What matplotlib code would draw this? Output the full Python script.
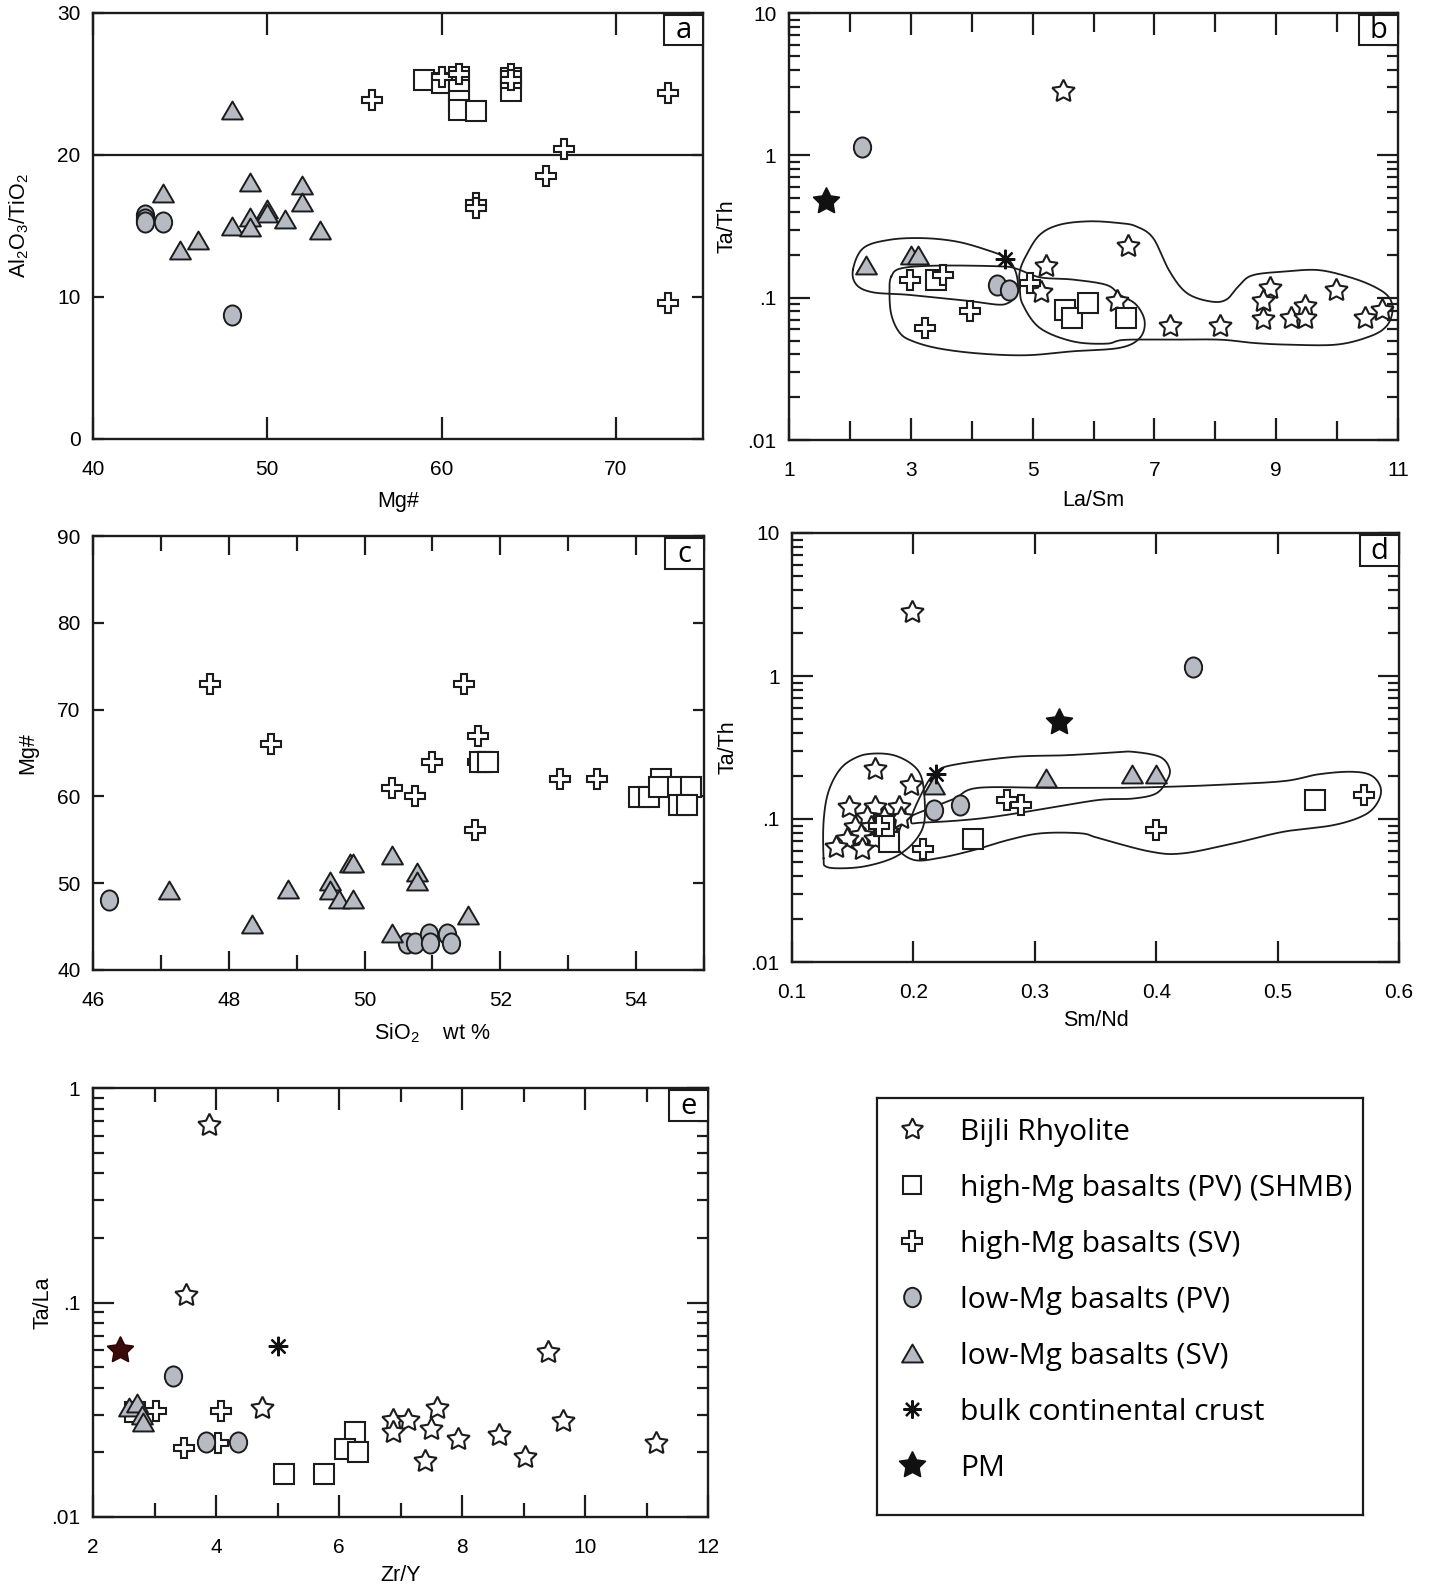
import numpy as np
import matplotlib
matplotlib.use('Agg')
import matplotlib.pyplot as plt
from matplotlib.lines import Line2D
from matplotlib.patches import Rectangle
from matplotlib.path import Path
from matplotlib.ticker import FixedLocator, FixedFormatter, NullFormatter

plt.rcParams['font.family'] = ['Liberation Sans', 'DejaVu Sans']
plt.rcParams['mathtext.default'] = 'regular'

# ---------------- data ----------------
# panel a : Mg# vs Al2O3/TiO2
a_sq_x = [59, 60, 61, 61, 61, 61, 62, 64, 64]
a_sq_y = [25.3, 25.1, 25.5, 24.6, 23.8, 23.2, 23.1, 24.5, 25.4]
a_pl_x = [56, 60, 61, 64, 64, 73, 67, 66, 62, 62, 73]
a_pl_y = [23.9, 25.5, 25.7, 25.7, 25.3, 24.4, 20.4, 18.5, 16.6, 16.3, 9.6]
a_ci_x = [43, 43, 43, 44, 48]
a_ci_y = [15.8, 15.5, 15.3, 15.3, 8.7]
a_tr_x = [48, 44, 49, 52, 52, 50, 50, 49, 48, 49, 51, 46, 45, 53]
a_tr_y = [23.2, 17.3, 18.1, 17.9, 16.7, 16.2, 15.9, 15.6, 15.0, 14.9, 15.5, 14.0, 13.3, 14.7]
a_limit = 20

# panel b : La/Sm vs Ta/Th
b_st_x = [5.50, 6.57, 5.22, 5.13, 6.38, 7.25, 8.07, 8.89, 8.78, 8.79, 9.25, 9.47, 9.47, 9.99, 10.45, 10.73]
b_st_y = [2.83, 0.229, 0.166, 0.110, 0.094, 0.063, 0.063, 0.117, 0.094, 0.071, 0.072, 0.087, 0.072, 0.114, 0.072, 0.082]
b_sq_x = [3.42, 5.53, 5.64, 5.91, 6.54]
b_sq_y = [0.134, 0.082, 0.072, 0.092, 0.072]
b_pl_x = [2.98, 3.53, 3.98, 3.23, 4.95]
b_pl_y = [0.134, 0.145, 0.081, 0.061, 0.127]
b_ci_x = [2.20, 4.41, 4.62]
b_ci_y = [1.14, 0.123, 0.114]
b_tr_x = [2.27, 3.01, 3.12]
b_tr_y = [0.171, 0.200, 0.200]
b_bcc_x, b_bcc_y = [4.55], [0.188]
b_pm_x, b_pm_y = [1.60], [0.48]

b_hull1_x = [2.05, 2.22, 2.65, 3.20, 3.75, 4.24, 4.57, 4.71, 4.76, 4.72, 4.60, 4.43, 4.02, 3.47, 2.93, 2.38, 2.11]
b_hull1_y = [0.157, 0.223, 0.255, 0.262, 0.248, 0.217, 0.190, 0.157, 0.123, 0.102, 0.0918, 0.0893, 0.0942, 0.0995, 0.105, 0.109, 0.123]
b_hull2_x = [2.68, 2.85, 3.47, 4.46, 4.73, 5.12, 5.66, 6.21, 6.43, 6.70, 6.84, 6.76, 6.43, 5.66, 4.90, 4.13, 3.47, 3.04, 2.82, 2.68, 2.65]
b_hull2_y = [0.141, 0.161, 0.168, 0.166, 0.160, 0.139, 0.134, 0.123, 0.105, 0.0893, 0.0682, 0.0521, 0.0444, 0.0420, 0.0394, 0.0405, 0.0439, 0.0493, 0.0565, 0.076, 0.111]
b_hull3_x = [4.79, 4.84, 5.12, 5.66, 6.21, 6.50, 7.25, 8.07, 8.62, 9.17, 9.99, 10.54, 10.81, 10.91, 10.86, 10.65,
             10.26, 9.71, 9.17, 8.62, 8.40, 8.18, 7.91, 7.53, 7.25, 6.98, 6.70, 6.43, 5.94, 5.45, 5.12, 4.90, 4.79]
b_hull3_y = [0.117, 0.0893, 0.0612, 0.0493, 0.0475, 0.0505, 0.0507, 0.0507, 0.0481, 0.0468, 0.0468, 0.0535, 0.0630, 0.0802, 0.0995, 0.117,
             0.137, 0.156, 0.153, 0.144, 0.123, 0.0968, 0.0942, 0.108, 0.153, 0.262, 0.317, 0.334, 0.344, 0.326, 0.277, 0.200, 0.153]

# panel c : SiO2 vs Mg#
c_pl_x = [47.72, 48.62, 51.47, 51.67, 50.99, 51.67, 51.73, 51.82, 50.41, 50.74, 52.88, 53.43, 51.63]
c_pl_y = [73.0, 66.0, 73.0, 67.0, 64.0, 64.0, 64.0, 64.0, 61.0, 60.0, 62.0, 62.0, 56.1]
c_sq_x = [51.70, 51.82, 54.04, 54.19, 54.37, 54.33, 54.62, 54.81, 54.63, 54.75]
c_sq_y = [64.0, 64.0, 59.9, 59.9, 62.0, 61.1, 61.1, 61.1, 59.0, 59.0]
c_ci_x = [46.24, 50.62, 50.75, 50.95, 50.97, 51.22, 51.28]
c_ci_y = [48.1, 43.1, 43.1, 44.2, 43.1, 44.2, 43.1]
c_tr_x = [47.12, 48.34, 48.87, 49.49, 49.49, 49.63, 49.83, 49.78, 49.83, 50.40, 50.77, 50.77, 50.40, 51.53]
c_tr_y = [49.2, 45.3, 49.3, 50.2, 49.2, 48.2, 48.2, 52.3, 52.3, 53.3, 51.3, 50.3, 44.3, 46.3]

# panel d : Sm/Nd vs Ta/Th
d_st_x = [0.199, 0.168, 0.198, 0.147, 0.168, 0.188, 0.190, 0.162, 0.176, 0.152, 0.165, 0.174, 0.157, 0.145, 0.168, 0.136, 0.158, 0.178]
d_st_y = [2.82, 0.225, 0.173, 0.122, 0.122, 0.122, 0.101, 0.104, 0.101, 0.088, 0.088, 0.088, 0.077, 0.073, 0.073, 0.064, 0.062, 0.081]
d_sq_x = [0.180, 0.176, 0.249, 0.531]
d_sq_y = [0.069, 0.090, 0.073, 0.135]
d_pl_x = [0.208, 0.277, 0.289, 0.400, 0.571, 0.172]
d_pl_y = [0.062, 0.136, 0.125, 0.084, 0.147, 0.090]
d_ci_x = [0.430, 0.217, 0.238]
d_ci_y = [1.16, 0.115, 0.125]
d_tr_x = [0.217, 0.309, 0.380, 0.400]
d_tr_y = [0.173, 0.195, 0.205, 0.205]
d_bcc_x, d_bcc_y = [0.219], [0.206]
d_pm_x, d_pm_y = [0.32], [0.475]

d_hull1_x = [0.126, 0.126, 0.130, 0.140, 0.154, 0.168, 0.184, 0.198, 0.206, 0.209, 0.209, 0.203, 0.192, 0.179, 0.159, 0.140, 0.128]
d_hull1_y = [0.0531, 0.0957, 0.155, 0.225, 0.272, 0.287, 0.279, 0.244, 0.202, 0.147, 0.0957, 0.0733, 0.0592, 0.0516, 0.0465, 0.0452, 0.0465]
d_hull2_x = [0.198, 0.209, 0.219, 0.234, 0.283, 0.325, 0.366, 0.381, 0.403, 0.411, 0.409, 0.400, 0.381, 0.353, 0.311, 0.256, 0.209]
d_hull2_y = [0.0982, 0.164, 0.214, 0.240, 0.272, 0.279, 0.292, 0.295, 0.272, 0.225, 0.187, 0.151, 0.139, 0.136, 0.119, 0.101, 0.0946]
d_hull3_x = [0.195, 0.214, 0.234, 0.253, 0.311, 0.366, 0.409, 0.450, 0.505, 0.533, 0.560, 0.577, 0.585, 0.582, 0.571,
             0.546, 0.505, 0.464, 0.422, 0.395, 0.353, 0.338, 0.305, 0.278, 0.250, 0.223, 0.201, 0.187, 0.188]
d_hull3_y = [0.101, 0.119, 0.139, 0.165, 0.165, 0.165, 0.168, 0.173, 0.184, 0.205, 0.214, 0.202, 0.164, 0.129, 0.106,
             0.0906, 0.0815, 0.0676, 0.0575, 0.0592, 0.0733, 0.0794, 0.0794, 0.0713, 0.0607, 0.0537, 0.0516, 0.0624, 0.0815]

# panel e : Zr/Y vs Ta/La
e_st_x = [3.89, 3.52, 9.40, 4.75, 6.88, 7.12, 7.60, 6.88, 7.49, 7.40, 7.94, 8.60, 9.03, 9.64, 11.15]
e_st_y = [0.67, 0.108, 0.0585, 0.0323, 0.0283, 0.0283, 0.0323, 0.0249, 0.0258, 0.0182, 0.0232, 0.0241, 0.0191, 0.028, 0.0222]
e_sq_x = [5.10, 5.75, 6.26, 6.10, 6.31, 2.69]
e_sq_y = [0.0159, 0.0159, 0.0249, 0.0208, 0.0201, 0.031]
e_pl_x = [3.02, 4.08, 3.48, 4.03]
e_pl_y = [0.0311, 0.0311, 0.021, 0.0222]
e_ci_x = [3.30, 3.84, 4.36]
e_ci_y = [0.0454, 0.0224, 0.0224]
e_tr_x = [2.58, 2.72, 2.79, 2.82]
e_tr_y = [0.0327, 0.0339, 0.0298, 0.0278]
e_bcc_x, e_bcc_y = [5.00], [0.0629]
e_pm_x, e_pm_y = [2.44], [0.060]

legend_labels = ['Bijli Rhyolite', 'high-Mg basalts (PV) (SHMB)', 'high-Mg basalts (SV)',
                 'low-Mg basalts (PV)', 'low-Mg basalts (SV)', 'bulk continental crust', 'PM']

# ---------------- styles ----------------
GRAY = '#b5bac3'
EDGE = '#1c1c1c'
_c = Path.unit_circle()
ELLIPSE = Path(_c.vertices * np.array([0.86, 1.0]), _c.codes)
TRI = Path([(0, 0.86), (-1, -0.86), (1, -0.86), (0, 0.86)], [1, 2, 2, 79])
STAR = (5, 1, 0)

ST = dict(marker=STAR, ms=17, mfc='white', mec=EDGE, mew=1.5, ls='none')
SQ = dict(marker='s', ms=14, mfc='white', mec=EDGE, mew=1.5, ls='none')
PL = dict(marker='P', ms=15, mfc='white', mec=EDGE, mew=1.5, ls='none')
CI = dict(marker=ELLIPSE, ms=14.5, mfc=GRAY, mec=EDGE, mew=1.4, ls='none')
TR = dict(marker=TRI, ms=15, mfc=GRAY, mec=EDGE, mew=1.4, ls='none')
BC = dict(marker=(8, 2, 0), ms=14, mec='#111111', mew=1.6, ls='none')
PM = dict(marker=STAR, ms=20, mfc='#111111', mec='#111111', mew=1.0, ls='none')

LABEL_FS = 15.5
W, H = 1431, 1595
fig = plt.figure(figsize=(W / 100, H / 100), dpi=100)


def box(l, r, t, b):
    return [l / W, 1 - b / H, (r - l) / W, (b - t) / H]


def base_style(ax):
    for s in ax.spines.values():
        s.set_linewidth(1.7)
        s.set_color('#1c1c1c')
    ax.tick_params(which='both', direction='in', top=True, right=True,
                   width=1.6, color='#1c1c1c', labelsize=15)
    ax.tick_params(axis='x', which='both', pad=15)
    ax.tick_params(axis='y', which='both', pad=9)


def letter(ax, txt):
    w, h = 0.064, 0.072
    ax.add_patch(Rectangle((1 - w, 1 - h - 0.004), w, h, transform=ax.transAxes,
                           facecolor='white', edgecolor='#1c1c1c', lw=1.5, zorder=10, clip_on=False))
    ax.text(1 - w / 2, 1 - h / 2 - 0.006, txt, transform=ax.transAxes, ha='center', va='center',
            fontsize=21, family=['Open Sans', 'DejaVu Sans'], zorder=11)


def hull(ax, xs, ys, logy=True, n=24):
    P = np.column_stack([np.asarray(xs, float),
                         np.log10(ys) if logy else np.asarray(ys, float)])
    xr = ax.get_xlim(); yr = ax.get_ylim()
    yr = (np.log10(yr[0]), np.log10(yr[1])) if logy else yr
    bb = ax.get_position()
    scale = np.array([bb.width * W / (xr[1] - xr[0]), bb.height * H / (yr[1] - yr[0])])
    Q = P * scale
    N = len(Q)
    segs = []
    t = np.linspace(0, 1, n, endpoint=False)[:, None]
    for i in range(N):
        p0, p1, p2, p3 = Q[(i - 1) % N], Q[i], Q[(i + 1) % N], Q[(i + 2) % N]
        seg = 0.5 * (2 * p1 + (-p0 + p2) * t + (2 * p0 - 5 * p1 + 4 * p2 - p3) * t ** 2
                     + (-p0 + 3 * p1 - 3 * p2 + p3) * t ** 3)
        segs.append(seg)
    C = np.vstack(segs + [Q[:1]]) / scale
    yy = 10 ** C[:, 1] if logy else C[:, 1]
    ax.plot(C[:, 0], yy, color='#1c1c1c', lw=1.3, zorder=1)


def log_y(ax, lo, hi, labels):
    ax.set_yscale('log')
    ax.set_ylim(lo, hi)
    majors = [10.0 ** k for k in range(int(round(np.log10(lo))), int(round(np.log10(hi))) + 1)]
    ax.yaxis.set_major_locator(FixedLocator(majors))
    ax.yaxis.set_major_formatter(FixedFormatter(labels))
    minors = [m * 10.0 ** k for k in range(int(round(np.log10(lo))), int(round(np.log10(hi))))
              for m in range(2, 10)]
    ax.yaxis.set_minor_locator(FixedLocator(minors))
    ax.yaxis.set_minor_formatter(NullFormatter())
    ax.tick_params(axis='y', which='major', length=15)
    ax.tick_params(axis='y', which='minor', length=8)


# ---------------- panel a ----------------
ax = fig.add_axes(box(93, 703, 13, 439))
base_style(ax)
ax.set_xlim(40, 75); ax.set_ylim(0, 30)
ax.set_xticks([40, 50, 60, 70]); ax.set_yticks([0, 10, 20, 30])
ax.tick_params(axis='x', length=16)
ax.tick_params(axis='y', length=8)
ax.axhline(a_limit, color='#1c1c1c', lw=1.6, zorder=1)
ax.plot(a_sq_x, a_sq_y, **SQ)
ax.plot(a_pl_x, a_pl_y, **PL)
ax.plot(a_ci_x, a_ci_y, **CI)
ax.plot(a_tr_x, a_tr_y, **TR)
ax.set_xlabel('Mg#', fontsize=LABEL_FS)
ax.set_ylabel('Al$_2$O$_3$/TiO$_2$', fontsize=LABEL_FS)
ax.xaxis.set_label_coords(0.5, -0.121)
ax.yaxis.set_label_coords(-0.102, 0.5)
letter(ax, 'a')

# ---------------- panel b ----------------
ax = fig.add_axes(box(789, 1398, 13, 440))
base_style(ax)
ax.set_xlim(1, 11)
log_y(ax, 0.01, 10, ['.01', '.1', '1', '10'])
ax.xaxis.set_major_locator(FixedLocator([1, 3, 5, 7, 9, 11]))
ax.xaxis.set_minor_locator(FixedLocator([2, 4, 6, 8, 10]))
ax.tick_params(axis='x', which='major', length=16)
ax.tick_params(axis='x', which='minor', length=14)
hull(ax, b_hull1_x, b_hull1_y)
hull(ax, b_hull2_x, b_hull2_y)
hull(ax, b_hull3_x, b_hull3_y)
ax.plot(b_st_x, b_st_y, **ST)
ax.plot(b_sq_x, b_sq_y, **SQ)
ax.plot(b_pl_x, b_pl_y, **PL)
ax.plot(b_ci_x, b_ci_y, **CI)
ax.plot(b_tr_x, b_tr_y, **TR)
ax.plot(b_bcc_x, b_bcc_y, **BC)
ax.plot(b_pm_x, b_pm_y, **PM)
ax.set_xlabel('La/Sm', fontsize=LABEL_FS)
ax.set_ylabel('Ta/Th', fontsize=LABEL_FS)
ax.xaxis.set_label_coords(0.5, -0.117)
ax.yaxis.set_label_coords(-0.084, 0.5)
letter(ax, 'b')

# ---------------- panel c ----------------
ax = fig.add_axes(box(93, 704, 536, 970))
base_style(ax)
ax.set_xlim(46, 55); ax.set_ylim(40, 90)
ax.xaxis.set_major_locator(FixedLocator([46, 48, 50, 52, 54]))
ax.xaxis.set_minor_locator(FixedLocator([47, 49, 51, 53, 55]))
ax.set_yticks([40, 50, 60, 70, 80, 90])
ax.tick_params(axis='x', which='major', length=14)
ax.tick_params(axis='x', which='minor', length=11)
ax.tick_params(axis='y', length=8)
ax.plot(c_pl_x, c_pl_y, **PL)
ax.plot(c_sq_x, c_sq_y, **SQ)
ax.plot(c_ci_x, c_ci_y, **CI)
ax.plot(c_tr_x, c_tr_y, **TR)
ax.set_xlabel('SiO$_2$    wt %', fontsize=LABEL_FS)
ax.set_ylabel('Mg#', fontsize=LABEL_FS)
ax.xaxis.set_label_coords(0.555, -0.118)
ax.yaxis.set_label_coords(-0.090, 0.5)
letter(ax, 'c')

# ---------------- panel d ----------------
ax = fig.add_axes(box(792, 1399, 533, 962))
base_style(ax)
ax.set_xlim(0.1, 0.6)
log_y(ax, 0.01, 10, ['.01', '.1', '1', '10'])
ax.xaxis.set_major_locator(FixedLocator([0.1, 0.2, 0.3, 0.4, 0.5, 0.6]))
ax.xaxis.set_major_formatter(FixedFormatter(['0.1', '0.2', '0.3', '0.4', '0.5', '0.6']))
ax.tick_params(axis='x', which='major', length=15)
hull(ax, d_hull1_x, d_hull1_y)
hull(ax, d_hull2_x, d_hull2_y)
hull(ax, d_hull3_x, d_hull3_y)
ax.plot(d_st_x, d_st_y, **ST)
ax.plot(d_sq_x, d_sq_y, **SQ)
ax.plot(d_pl_x, d_pl_y, **PL)
ax.plot(d_ci_x, d_ci_y, **CI)
ax.plot(d_tr_x, d_tr_y, **TR)
ax.plot(d_bcc_x, d_bcc_y, **BC)
ax.plot(d_pm_x, d_pm_y, **PM)
ax.set_xlabel('Sm/Nd', fontsize=LABEL_FS)
ax.set_ylabel('Ta/Th', fontsize=LABEL_FS)
ax.xaxis.set_label_coords(0.5, -0.111)
ax.yaxis.set_label_coords(-0.0885, 0.5)
letter(ax, 'd')

# ---------------- panel e ----------------
ax = fig.add_axes(box(93, 708, 1088, 1517))
base_style(ax)
ax.set_xlim(2, 12)
log_y(ax, 0.01, 1, ['.01', '.1', '1'])
ax.xaxis.set_major_locator(FixedLocator([2, 4, 6, 8, 10, 12]))
ax.xaxis.set_minor_locator(FixedLocator([3, 5, 7, 9, 11]))
ax.tick_params(axis='x', which='major', length=16)
ax.tick_params(axis='x', which='minor', length=10)
ax.plot(e_st_x, e_st_y, **ST)
ax.plot(e_sq_x, e_sq_y, **SQ)
ax.plot(e_pl_x, e_pl_y, **PL)
ax.plot(e_ci_x, e_ci_y, **CI)
ax.plot(e_tr_x, e_tr_y, **TR)
ax.plot(e_bcc_x, e_bcc_y, **BC)
ax.plot(e_pm_x, e_pm_y, **dict(PM, mfc='#3b0a0a', mec='#2a0505'))
ax.set_xlabel('Zr/Y', fontsize=LABEL_FS)
ax.set_ylabel('Ta/La', fontsize=LABEL_FS)
ax.xaxis.set_label_coords(0.5, -0.112)
ax.yaxis.set_label_coords(-0.065, 0.5)
letter(ax, 'e')

# ---------------- legend ----------------
lax = fig.add_axes(box(877, 1363, 1098, 1515))
lax.set_xticks([]); lax.set_yticks([])
for s in lax.spines.values():
    s.set_linewidth(1.6)
    s.set_color('#1c1c1c')
handles = [
    Line2D([], [], **dict(ST, ms=16)),
    Line2D([], [], **dict(SQ, ms=13)),
    Line2D([], [], **dict(PL, ms=14)),
    Line2D([], [], **dict(CI, ms=14)),
    Line2D([], [], **dict(TR, ms=15)),
    Line2D([], [], **dict(BC, ms=13)),
    Line2D([], [], **dict(PM, ms=20)),
]
lax.legend(handles, legend_labels, loc='upper left', bbox_to_anchor=(0.0, 1.0),
           frameon=False, borderaxespad=0, borderpad=0.66, handlelength=1.0,
           handletextpad=1.12, labelspacing=0.90,
           prop={'family': ['Open Sans', 'DejaVu Sans'], 'size': 21.6})

fig.savefig('out.png', dpi=100)
